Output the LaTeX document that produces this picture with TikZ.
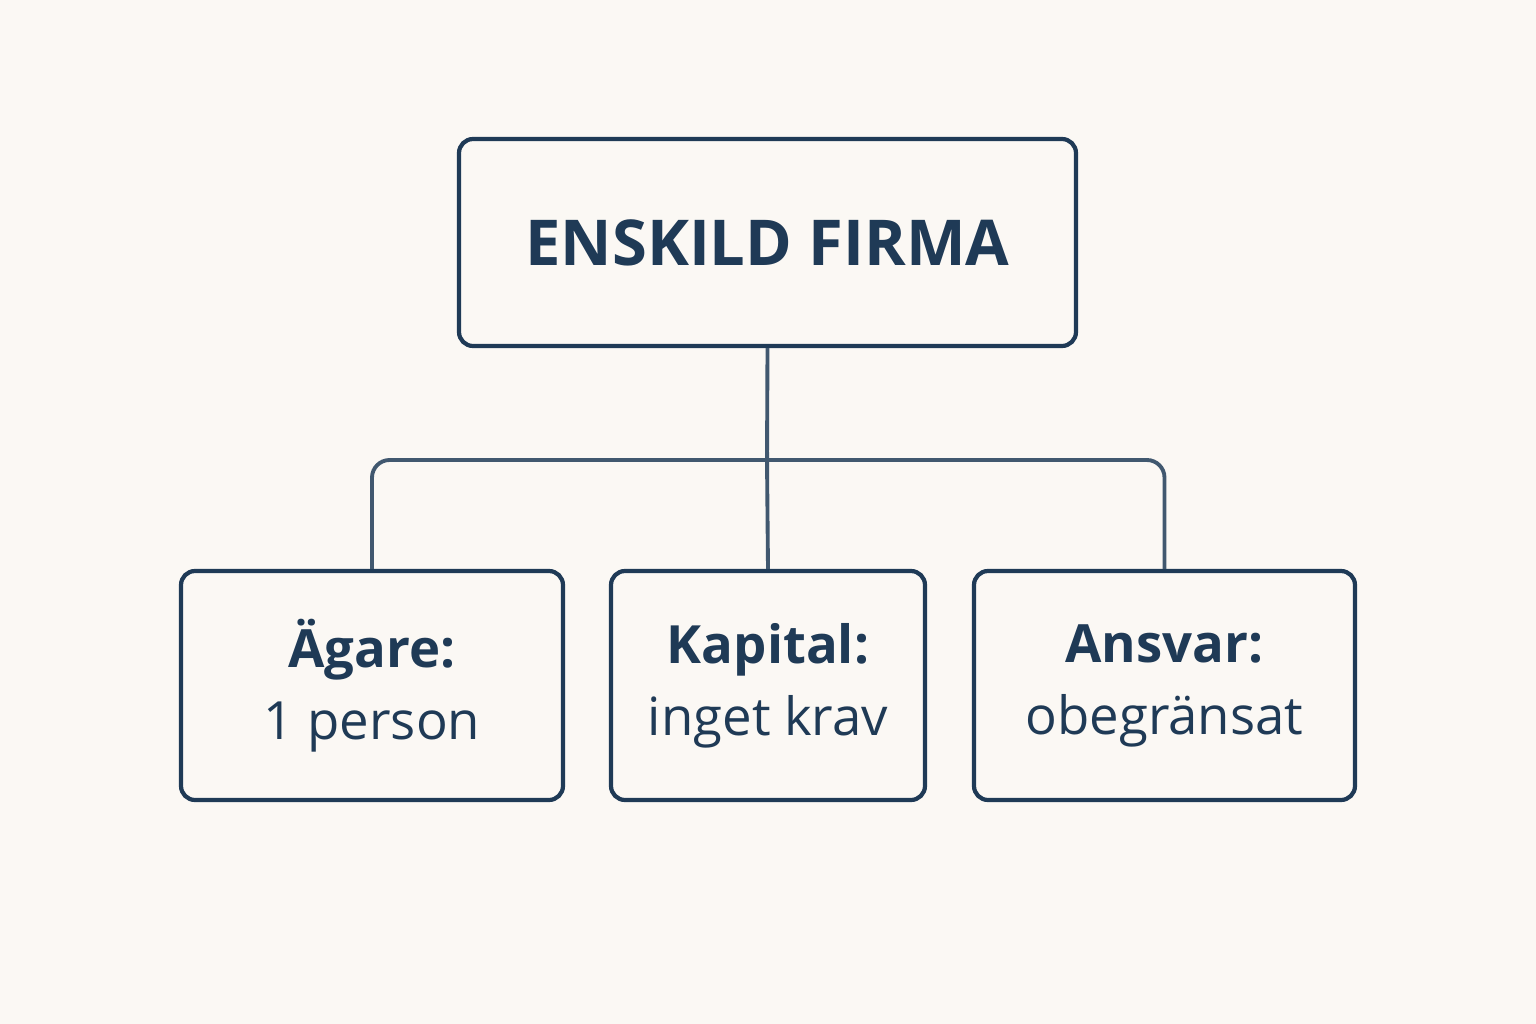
\documentclass[tikz,border=0pt]{standalone}
\usepackage{fontspec}
\setmainfont{Open Sans}
\usetikzlibrary{positioning}
\definecolor{ink}{HTML}{1F3A56}
\definecolor{paper}{HTML}{FBF8F4}
\begin{document}
\begin{tikzpicture}[x=0.02cm,y=-0.02cm,every node/.style = {draw=ink, line width=2.4pt, rounded corners=8pt, text=ink, align=center, inner sep=0pt},
box/.style={minimum height=229*0.02cm, font=\fontsize{30}{41}\selectfont},
link/.style={draw=ink!85, line width=2.2pt, rounded corners=10pt}]
\fill[paper] (0,0) rectangle (1536,1024);
\node(root) [minimum width=617*0.02cm, minimum height=207*0.02cm, font=\fontsize{36}{42}\selectfont\bfseries] at (767.5,242.5) {ENSKILD FIRMA};
\node(owner) [box, minimum width=382*0.02cm] at (372,685.5) {\textbf{Ägare:}\\1 person};
\node(capital) [box, minimum width=314*0.02cm] at (768,685.5) {\textbf{Kapital:}\\inget krav};
\node(liability) [box, minimum width=381*0.02cm] at (1164.5,685.5) {\textbf{Ansvar:}\\obegränsat};
\coordinate (hub) at (767,460);
\draw[link] (root.south) -- (hub) -- (capital.north);
\draw[link] (hub) -| (owner.north);
\draw[link] (hub) -| (liability.north);
\end{tikzpicture}
\end{document}
